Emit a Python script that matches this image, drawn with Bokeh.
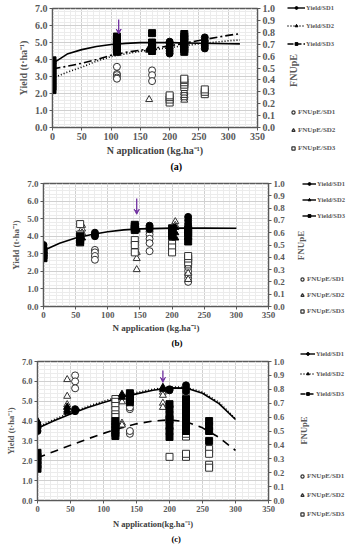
import math
from bokeh.plotting import figure
from bokeh.models import (Range1d, LinearAxis, Legend, LegendItem, Arrow, VeeHead,
                          Title, NumeralTickFormatter, FixedTicker)
from bokeh.core.properties import value
from bokeh.layouts import column, row
from bokeh.embed import file_html
from bokeh.resources import INLINE

FONT = "Liberation Serif"
GRAY = "#595959"
PURPLE = "#7030A0"
NAN = float("nan")

# ---------------- Panel (a) ----------------
a_fit_x = [0, 25, 50, 75, 100, 125, 150, 200, 250, 300, 320]
a_fit_sd1 = [3.76, 4.32, 4.58, 4.76, 4.88, 4.95, 4.99, 4.99, 4.96, 4.93, 4.92]
a_fit_sd2 = [2.9, 3.25, 3.55, 3.9, 4.17, 4.33, 4.48, 4.7, 4.92, 5.1, 5.15]
a_fit_sd3 = [3.45, 3.6, 3.78, 4.0, 4.25, 4.42, 4.55, 4.8, 5.12, 5.42, 5.52]
a_yield_sd1 = [(200, [4.35, 4.5, 4.65, 4.8, 4.95, 5.05]), (225, [4.5, 4.7, 4.9]),
               (260, [4.65, 4.8, 4.95, 5.1, 5.3])]
a_yield_sd2 = [(165, [4.55, 4.65])]
a_yield_sd3 = [(0, [2.2, 2.4, 2.6, 2.8, 3.0, 3.2, 3.4, 3.6, 3.8, 3.95]),
               (110, [4.45, 4.6, 4.75, 4.9, 5.05, 5.2, 5.35]),
               (170, [4.5, 4.7, 4.85, 5.0, 5.55]),
               (225, [4.45, 4.6, 4.75, 4.9, 5.05, 5.2, 5.35, 5.5])]
a_fn_sd1 = [(110, [0.51, 0.45, 0.44, 0.42, 0.41]), (170, [0.48, 0.44, 0.39]), (225, [0.25, 0.28])]
a_fn_sd2 = [(165, [0.235]), (225, [0.23, 0.25, 0.27, 0.29, 0.31])]
a_fn_sd3 = [(200, [0.21, 0.235, 0.255, 0.27]), (225, [0.34, 0.36, 0.38, 0.40, 0.41]),
            (260, [0.28, 0.30, 0.32])]
a_arrow = (113, 6.35, 5.5)

# ---------------- Panel (b) ----------------
b_fit_x = [0, 25, 50, 75, 100, 125, 150, 200, 250, 300]
b_fit = [3.19, 3.6, 3.9, 4.1, 4.25, 4.36, 4.42, 4.46, 4.46, 4.45]
b_yield_sd1 = [(0, [3.3, 3.5]), (80, [4.0, 4.1, 4.2]), (165, [4.4, 4.5, 4.6]),
               (225, [4.3, 4.5, 4.7, 4.9, 5.1])]
b_yield_sd2 = [(60, [3.9]), (145, [4.35, 4.45]), (205, [3.9, 4.2, 4.5])]
b_yield_sd3 = [(0, [2.75, 2.9, 3.05, 3.2]), (57, [3.65, 3.75, 3.85, 4.0]),
               (142, [4.35, 4.45, 4.55, 4.65]), (200, [4.0, 4.15, 4.3, 4.45]),
               (225, [3.7, 4.0, 4.2, 4.4])]
b_fn_sd1 = [(80, [0.46, 0.44, 0.41, 0.38]), (165, [0.61, 0.585, 0.55, 0.515, 0.45]),
            (225, [0.2, 0.23, 0.26, 0.29, 0.32, 0.35, 0.38, 0.41])]
b_fn_sd2 = [(60, [0.66, 0.63, 0.6]), (145, [0.44, 0.39, 0.3]), (205, [0.69, 0.66]),
            (225, [0.22, 0.27, 0.33])]
b_fn_sd3 = [(57, [0.67, 0.585]), (142, [0.54, 0.5, 0.44]), (200, [0.51, 0.48, 0.44]),
            (225, [0.36, 0.39, 0.41])]
b_arrow = (145, 6.15, 5.25)

# ---------------- Panel (c) ----------------
c_fit_x = [0, 25, 50, 75, 100, 125, 150, 175, 200, 225, 250, 275, 300]
c_fit_sd1 = [3.64, 4.02, 4.36, 4.67, 4.93, 5.17, 5.37, 5.55, 5.67, 5.66, 5.4, 4.88, 4.08]
c_fit_sd2 = [3.7, 4.08, 4.42, 4.73, 5.0, 5.24, 5.44, 5.6, 5.72, 5.7, 5.46, 4.94, 4.12]
c_fit_sd3 = [2.15, 2.47, 2.78, 3.09, 3.38, 3.64, 3.86, 4.0, 4.06, 3.97, 3.66, 3.18, 2.52]
c_yield_sd1 = [(0, [3.5, 3.65, 3.8]), (57, [4.5, 4.6]), (200, [5.55, 5.6]),
               (225, [5.5, 5.65, 5.8])]
c_yield_sd2 = [(0, [3.75, 3.9, 4.0]), (45, [4.45, 4.55, 4.7]), (128, [5.2, 5.35]),
               (190, [5.6, 5.7])]
c_yield_sd3 = [(0, [1.6, 1.8, 2.0, 2.2, 2.4]), (118, [3.25, 3.4, 3.55, 3.7, 3.85, 4.0]),
               (140, [4.95, 5.1, 5.25, 5.4]), (200, [3.2, 3.5, 3.8, 4.1, 4.25, 4.6, 4.85]),
               (225, [3.5, 3.75, 4.0, 4.25, 4.5, 4.75, 4.95, 5.1]),
               (260, [3.0, 3.5, 3.75, 4.0])]
c_fn_sd1 = [(57, [0.9, 0.857, 0.807]), (140, [0.657, 0.67, 0.48, 0.5]),
            (200, [0.636, 0.56, 0.515]), (225, [0.74, 0.77])]
c_fn_sd2 = [(45, [0.87, 0.75, 0.69, 0.67]), (128, [0.71, 0.557, 0.543]),
            (190, [0.78, 0.757, 0.7, 0.67]), (225, [0.55])]
c_fn_sd3 = [(118, [0.73, 0.71, 0.68, 0.65, 0.62, 0.6]), (200, [0.314]),
            (225, [0.46, 0.48, 0.5, 0.52, 0.314, 0.336]),
            (260, [0.37, 0.336, 0.257, 0.236])]
c_arrow = (190, 6.55, 5.95)

x_ticks = [0, 50, 100, 150, 200, 250, 300, 350]
y_ticks = [0, 1, 2, 3, 4, 5, 6, 7]
fn_ticks = [0, 0.1, 0.2, 0.3, 0.4, 0.5, 0.6, 0.7, 0.8, 0.9, 1.0]
yield_labels = ["Yield/SD1", "Yield/SD2", "Yield/SD3"]
fn_labels = ["FNUpE/SD1", "FNUpE/SD2", "FNUpE/SD3"]
markers = ["circle", "triangle", "square"]


def expand(groups):
    xs, ys = [], []
    for x, vals in groups:
        xs += [x] * len(vals)
        ys += list(vals)
    return xs, ys


def style_axis(ax, fs):
    ax.axis_line_color = GRAY
    ax.major_tick_line_color = GRAY
    ax.major_tick_out = 3
    ax.major_tick_in = 0
    ax.minor_tick_out = 0
    ax.minor_tick_in = 0
    ax.major_label_text_font = FONT
    ax.major_label_text_font_style = "bold"
    ax.major_label_text_color = GRAY
    ax.major_label_text_font_size = f"{fs}px"
    ax.major_label_standoff = 2
    ax.axis_label_text_font = FONT
    ax.axis_label_text_font_style = "bold"
    ax.axis_label_text_color = GRAY
    ax.axis_label_text_font_size = f"{fs}px"
    ax.axis_label_standoff = 3


def make_panel(cfg):
    H, Wm = cfg["h"], cfg["wm"]
    fs = cfg["fs"]
    p = figure(width=Wm, height=H, x_range=Range1d(0, 350), y_range=Range1d(0, 7),
               output_backend="svg", toolbar_location=None,
               min_border_left=cfg["L"], min_border_right=Wm - cfg["L"] - cfg["fw"],
               min_border_top=cfg["T"], min_border_bottom=cfg["B"])
    p.extra_y_ranges = {"fn": Range1d(0, 1)}
    p.outline_line_color = GRAY
    p.outline_line_width = 1.5
    p.xaxis.ticker = FixedTicker(ticks=x_ticks, minor_ticks=list(range(0, 351, 10)))
    p.yaxis.ticker = FixedTicker(ticks=y_ticks, minor_ticks=[i * 0.2 for i in range(36)])
    p.yaxis.formatter = NumeralTickFormatter(format="0.0")
    p.xgrid.grid_line_color = "#d0d0d0"
    p.ygrid.grid_line_color = "#d0d0d0"
    p.xgrid.minor_grid_line_color = "#ececec"
    p.ygrid.minor_grid_line_color = "#ececec"
    rax = LinearAxis(y_range_name="fn", ticker=FixedTicker(ticks=fn_ticks),
                     formatter=NumeralTickFormatter(format="0.0"))
    p.add_layout(rax, "right")
    p.xaxis.axis_label = cfg["xlabel"]
    p.yaxis[0].axis_label = "Yield (t·ha⁻¹)"
    for ax in p.xaxis + p.yaxis:
        style_axis(ax, fs)
    p.xaxis.axis_label_text_color = "#404040"
    p.xaxis.axis_label_standoff = cfg["xstand"]

    # fitted curves
    for ys, dash in zip(cfg["fits"], cfg["dashes"]):
        p.line(cfg["fit_x"], ys, line_color="black", line_width=1.6, line_dash=dash)
    # FNUpE points (hollow)
    for groups, m in zip(cfg["fns"], markers):
        xs, ys = expand(groups)
        p.scatter(xs, ys, marker=m, size=7, fill_color="white",
                  line_color="#303030", line_width=1, y_range_name="fn")
    # yield points
    for groups, m in zip(cfg["yields"], markers):
        xs, ys = expand(groups)
        p.scatter(xs, ys, marker=m, size=7, fill_color="black", line_color="black")
    # arrow
    ax_, y0, y1 = cfg["arrow"]
    p.add_layout(Arrow(end=VeeHead(size=5, line_color=PURPLE, fill_color=PURPLE),
                       x_start=ax_, y_start=y0, x_end=ax_, y_end=y1,
                       line_color=PURPLE, line_width=1.3))
    p.add_layout(Title(text=cfg["letter_text"], align="left", offset=cfg["loff"],
                       text_font=FONT, text_font_style="bold",
                       text_font_size=f"{fs}px", text_color="black",
                       standoff=0), "below")

    # ---- legend / right-title strip ----
    Wl = 353 - Wm
    lg = figure(width=Wl, height=H, x_range=Range1d(0, Wl), y_range=Range1d(0, H),
                output_backend="svg", toolbar_location=None,
                x_axis_type=None, y_axis_type=None, min_border=0,
                outline_line_color=None)
    if "frame_align" in lg.properties():
        lg.frame_align = False
    lg.grid.visible = False
    tx, ty = cfg["fn_title"]
    lg.text(x=[tx], y=[ty], text=["FNUpE"], angle=math.pi / 2,
            text_font=value(FONT), text_font_style="bold", text_color=GRAY,
            text_font_size=f"{fs}px", text_align="center", text_baseline="middle")
    # legend proxies (no visible data: NaN positions)
    yitems = []
    for i in range(3):
        dash = cfg["leg_dashes"][i]
        r1 = lg.line(x=[NAN, NAN], y=[NAN, NAN], line_color="black", line_width=1.4,
                     line_dash=dash)
        r2 = lg.scatter(x=[NAN], y=[NAN], marker=markers[i], size=4, color="black")
        yitems.append(LegendItem(label=yield_labels[i], renderers=[r1, r2]))
    fitems = []
    for i in range(3):
        r = lg.scatter(x=[NAN], y=[NAN], marker=markers[i], size=6, fill_color="white",
                       line_color="#303030", line_width=1.2)
        fitems.append(LegendItem(label=fn_labels[i], renderers=[r]))
    common = dict(orientation="vertical", label_height=10,
                  padding=0, margin=0, label_standoff=1,
                  label_text_font=FONT, label_text_font_style="bold",
                  label_text_color=GRAY, background_fill_alpha=0, border_line_alpha=0)
    leg1 = Legend(items=yitems, location=cfg["leg1"], glyph_width=cfg["gw"],
                  glyph_height=7, spacing=cfg["sp1"], label_text_font_size="6.5px",
                  **common)
    leg2 = Legend(items=fitems, location=cfg["leg2"], glyph_width=8, glyph_height=10,
                  spacing=cfg["sp2"], label_text_font_size="7px", **common)
    lg.add_layout(leg1, "center")
    lg.add_layout(leg2, "center")
    return row(p, column(lg, spacing=0), spacing=0)


ra = make_panel(dict(h=172, wm=285, L=52, fw=205, T=8, B=45, fs=10, xstand=2,
                     xlabel="N application (kg.ha⁻¹)",
                     fit_x=a_fit_x, fits=[a_fit_sd1, a_fit_sd2, a_fit_sd3],
                     dashes=["solid", "1 2", "8 3 2 3"],
                     leg_dashes=["solid", "1 2", "6 2"],
                     yields=[a_yield_sd1, a_yield_sd2, a_yield_sd3],
                     fns=[a_fn_sd1, a_fn_sd2, a_fn_sd3], arrow=a_arrow,
                     gw=18, sp1=8, sp2=8, leg1=(2, 124), leg2=(4, 19),
                     fn_title=(8, 102), loff=118, letter_text="(a)"))
rb = make_panel(dict(h=176, wm=292, L=43, fw=225, T=11, B=42, fs=9, xstand=2,
                     xlabel="N application (kg.ha⁻¹)",
                     fit_x=b_fit_x, fits=[b_fit], dashes=["solid"],
                     leg_dashes=["solid", "solid", "solid"],
                     yields=[b_yield_sd1, b_yield_sd2, b_yield_sd3],
                     fns=[b_fn_sd1, b_fn_sd2, b_fn_sd3], arrow=b_arrow,
                     gw=14, sp1=6, sp2=6, leg1=(10, 128), leg2=(6, 32),
                     fn_title=(8, 103), loff=128, letter_text="(b)"))
rc = make_panel(dict(h=202, wm=292, L=37, fw=231, T=13, B=50, fs=8.5, xstand=4,
                     xlabel="N application(kg.ha⁻¹)",
                     fit_x=c_fit_x, fits=[c_fit_sd1, c_fit_sd2, c_fit_sd3],
                     dashes=["solid", "1 2", "8 6"],
                     leg_dashes=["solid", "1 2", "5 3"],
                     yields=[c_yield_sd1, c_yield_sd2, c_yield_sd3],
                     fns=[c_fn_sd1, c_fn_sd2, c_fn_sd3], arrow=c_arrow,
                     gw=15, sp1=10, sp2=9, leg1=(8, 152), leg2=(6, 31),
                     fn_title=(11, 120), loff=134, letter_text="(c)"))

layout = column(ra, rb, rc, spacing=0)
open("out.html", "w").write(file_html(layout, INLINE))
